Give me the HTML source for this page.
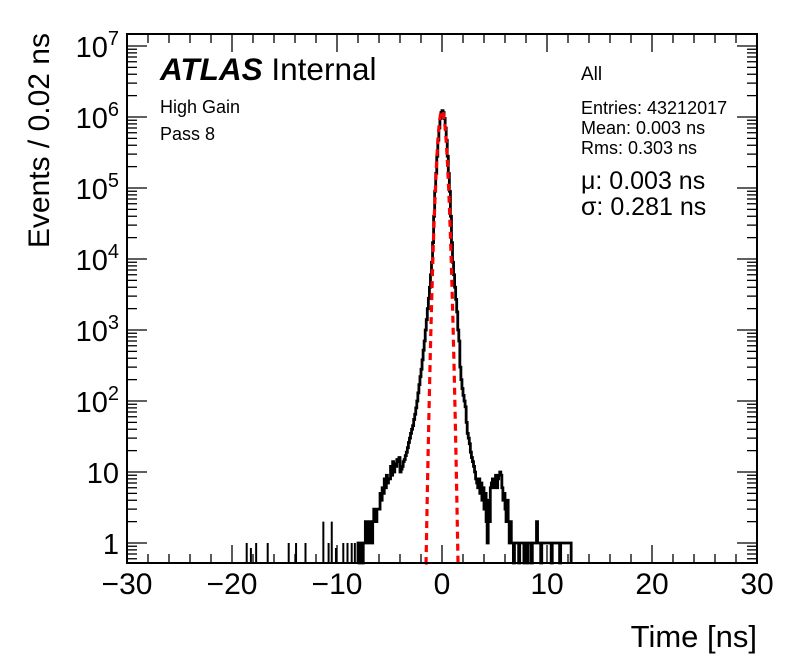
<!DOCTYPE html>
<html><head><meta charset="utf-8">
<style>
html,body{margin:0;padding:0;background:#fff;}
svg{display:block;font-family:"Liberation Sans",Arial,sans-serif;}
</style></head>
<body>
<svg id="chart" width="796" height="672" viewBox="0 0 796 672" xmlns="http://www.w3.org/2000/svg">
  <rect x="0" y="0" width="796" height="672" fill="#fff"/>
  <g id="marks"></g>
  <g id="axes"></g>
  <rect x="127" y="34" width="630" height="529" fill="none" stroke="#000" stroke-width="2"/>
  <text x="757" y="647" font-size="31" text-anchor="end">Time [ns]</text>
  <text transform="translate(49,33) rotate(-90)" font-size="30" text-anchor="end">Events / 0.02 ns</text>
  <text x="160" y="80" font-size="31.5"><tspan font-weight="bold" font-style="italic">ATLAS</tspan> Internal</text>
  <text x="160" y="113" font-size="18">High Gain</text>
  <text x="160" y="140" font-size="18">Pass 8</text>
  <text x="581" y="80" font-size="19">All</text>
  <text x="581" y="114" font-size="18">Entries: 43212017</text>
  <text x="581" y="134" font-size="18">Mean: 0.003 ns</text>
  <text x="581" y="154" font-size="18">Rms: 0.303 ns</text>
  <text x="581" y="189" font-size="25">μ: 0.003 ns</text>
  <text x="581" y="215" font-size="25">σ: 0.281 ns</text>
</svg>
<script>
// ---- data ----
const binStart = -8.0;      // first bin lower edge (ns)
const binWidth = 0.1;       // ns per drawn bin
const counts = [
 1,0,1,1,0,1,1,2,1,1,
 2,1,2,1,2,3,3,2,3,3,
 3,5,4,6,5,8,6,9,7,8,
 8,12,9,14,10,13,12,15,14,16,
 10,11,12,14,15,17,19,22,26,30,
 35,40,45,55,65,80,100,130,170,220,
 280,380,520,700,1000,1400,2000,2800,4000,6000,
 9000,17000,40000,90000,160000,280000,470000,700000,955000,1155000,
 1230000,1155000,955000,700000,470000,280000,160000,90000,40000,17000,
 9000,6000,4000,2700,1800,1000,700,300,200,150,
 120,100,83,50,35,30,25,19,16,14,
 12,10,8,7,6,8,5,7,4,6,
 3,5,2,1,4,2,6,7,8,6,
 7,9,6,8,9,10,9,6,4,5,
 3,2,4,2,1,2,1,1,0,1,
 1,1,1,0,1,1,1,1,0,1,
 1,0,1,1,1,0,1,1,1,1,
 2,1,1,1,0,1,1,1,1,1,
 1,1,1,1,0,1,1,1,1,1,
 1,1,0,1,1,1,1,1,1,1,
 1,1,1
];
const spikeTimes = [-18.6,-18.2,-17.7,-16.6,-14.6,-13.9,-13.0,-11.3,-10.8,-10.5,-10.1,-9.4,-9.0,-8.6,-8.3];
const spikeCounts = [1,0.85,1,1,1,1,1,2,1,2,0.85,1,1,1,1];
const fitMu = 0.003;
const fitSigma = 0.281;
const fitAmp = 1230000;
const xTicks = [-30,-20,-10,0,10,20,30];
const yDecades = [0,1,2,3,4,5,6,7];

// ---- axes ----
const X0=127, X1=757, Y0=563, Y1=34;
const xMin=-30, xMax=30;
const yPix1=543, decadePx=71;
function xs(t){return X0+(t-xMin)/(xMax-xMin)*(X1-X0);}
function ys(v){return yPix1-Math.log10(v)*decadePx;}
const NS='http://www.w3.org/2000/svg';
const marks=document.getElementById('marks');
const axes=document.getElementById('axes');
function mk(tag,attrs,parent){const e=document.createElementNS(NS,tag);for(const k in attrs)e.setAttribute(k,attrs[k]);parent.appendChild(e);return e;}
function yc(v){return v<=0?Y0:Math.max(Y1,Math.min(Y0,ys(v)));}

// histogram step outline
let d='M'+xs(binStart)+','+Y0;
counts.forEach((c,i)=>{
  const xa=xs(binStart+i*binWidth), xb=xs(binStart+(i+1)*binWidth), y=yc(c);
  d+=' L'+xa+','+y+' L'+xb+','+y;
});
d+=' L'+xs(binStart+counts.length*binWidth)+','+Y0;
const hist=mk('path',{d:d,fill:'none',stroke:'#000','stroke-width':2.8,'stroke-linejoin':'miter'},marks);



// isolated tail spikes
spikeTimes.forEach((t,i)=>{
  const l=mk('line',{x1:xs(t),x2:xs(t),y1:Y0,y2:yc(spikeCounts[i]),stroke:'#000','stroke-width':2},marks);
  
  
});

// gaussian fit
let fd='';
for(let t=-1.62;t<=1.72;t+=0.01){
  const v=fitAmp*Math.exp(-0.5*Math.pow((t-fitMu)/fitSigma,2));
  fd+=(fd?' L':'M')+xs(t).toFixed(2)+','+yc(v).toFixed(2);
}
const fit=mk('path',{d:fd,fill:'none',stroke:'#ff0000','stroke-width':3.2,'stroke-dasharray':'7,5'},marks);



// x ticks
for(let t=xMin;t<=xMax;t+=2){
  const major=(t%10===0), len=major?18:9;
  const a=mk('line',{x1:xs(t),x2:xs(t),y1:Y0,y2:Y0-len,stroke:'#000','stroke-width':1.3},axes);
  
  
  const b=mk('line',{x1:xs(t),x2:xs(t),y1:Y1,y2:Y1+len,stroke:'#000','stroke-width':1.3},axes);
  
  
}
xTicks.forEach(t=>{
  const tx=mk('text',{x:xs(t),y:594,'font-size':30,'text-anchor':'middle'},axes);
  tx.textContent=(t<0?'\u2212'+(-t):String(t));
  
  
});
// y ticks
for(let e=-1;e<=7;e++){
  for(let m=1;m<=9;m++){
    const v=m*Math.pow(10,e), y=ys(v);
    if(y>Y0+0.5||y<Y1-0.5)continue;
    const len=m===1?20:10;
    const a=mk('line',{x1:X0,x2:X0+len,y1:y,y2:y,stroke:'#000','stroke-width':1.3},axes);
    
    
    const b=mk('line',{x1:X1,x2:X1-len,y1:y,y2:y,stroke:'#000','stroke-width':1.3},axes);
    
    
  }
}
yDecades.forEach(e=>{
  const y=ys(Math.pow(10,e));
  const tx=mk('text',{x:119,y:y+11,'font-size':29,'text-anchor':'end'},axes);
  
  
  if(e===0){tx.textContent='1';}
  else if(e===1){tx.textContent='10';}
  else{
    const s1=document.createElementNS(NS,'tspan');s1.textContent='10';tx.appendChild(s1);
    const s2=document.createElementNS(NS,'tspan');s2.setAttribute('dy','-12');s2.setAttribute('font-size','20');s2.textContent=String(e);tx.appendChild(s2);
  }
});
</script>
</body></html>
